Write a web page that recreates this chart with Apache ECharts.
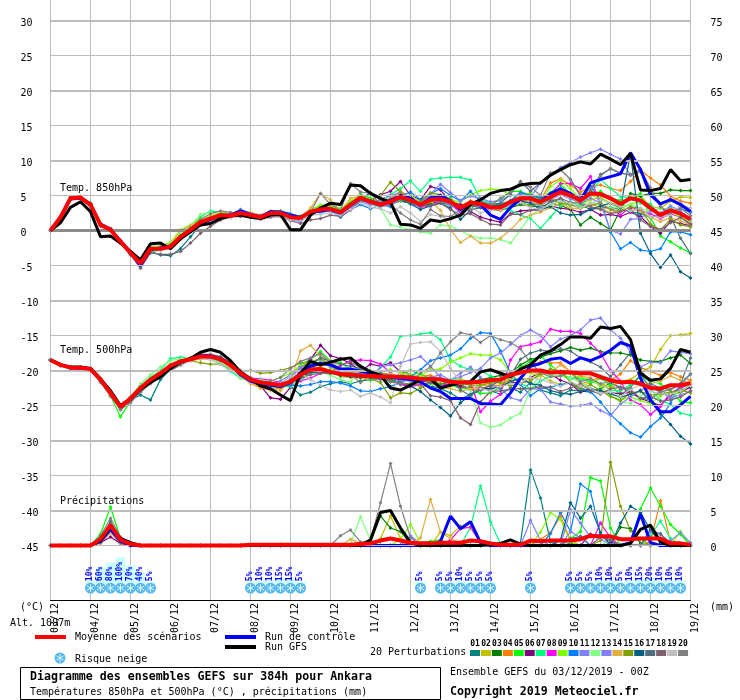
<!DOCTYPE html>
<html><head><meta charset="utf-8">
<style>html,body{margin:0;padding:0;background:#fff}#c{width:740px;height:700px}</style>
<script src="https://cdn.jsdelivr.net/npm/echarts@6/dist/echarts.min.js"></script>
</head><body><div id="c"></div>
<script>
const dates=['03/12','04/12','05/12','06/12','07/12','08/12','09/12','10/12','11/12','12/12','13/12','14/12','15/12','16/12','17/12','18/12','19/12'];
const leftTicks=[30,25,20,15,10,5,0,-5,-10,-15,-20,-25,-30,-35,-40,-45];
const rightTicks=[75,70,65,60,55,50,45,40,35,30,25,20,15,10,5,0];
const thinLevels=[25,15,5,-5,-15,-25,-35,-45];
const thickLevels=[30,20,10,-10,-20,-30,-40];
const memberNames=['01','02','03','04','05','06','07','08','09','10','11','12','13','14','15','16','17','18','19','20'];
const memberColors=['#008080','#c0c000','#008000','#ff8000','#00ff00','#800080','#00ff80','#ff00ff','#80ff00','#0080ff','#8080ff','#80ff80','#8080ff','#e0b040','#80a000','#006080','#507080','#806070','#c0c0c0','#808080'];

const mean850=[0,1.9,4.6,4.7,3.7,0.8,0.1,-1.6,-3.2,-4.7,-2.6,-2.6,-2.3,-0.9,0.1,1.2,1.7,2.2,2.1,2.5,2.2,1.9,2.5,2.5,1.9,1.8,2.7,3.0,3.1,2.6,3.7,4.7,4.1,3.7,4.1,4.8,4.3,3.7,4.4,4.5,4.1,3.2,4.0,3.8,3.3,3.3,4.1,4.6,4.6,4.1,4.8,5.5,5.0,4.3,5.3,5.2,4.6,3.8,4.6,4.3,3.2,2.2,2.9,2.4,1.6];
const gfs850=[0,1.1,3.3,4.1,2.7,-0.9,-0.8,-1.8,-3.0,-4.2,-1.9,-1.8,-2.6,-1.2,-0.2,0.8,1.0,1.7,2.1,2.2,1.9,1.7,2.2,2.3,0.1,0.1,2.2,3.2,3.9,3.7,6.5,6.4,5.3,4.6,4.0,0.9,0.8,0.3,1.5,1.3,1.7,2.2,3.7,4.4,5.3,5.7,5.9,6.5,6.7,6.8,7.9,8.7,9.4,9.8,9.5,10.9,10.2,9.4,11.0,5.8,5.7,6.0,8.7,7.1,7.3];
const ctrl850=[0,1.8,4.5,4.6,3.6,0.9,0.2,-1.5,-3.1,-5.0,-2.7,-2.5,-2.2,-1.0,0,1.0,1.6,2.1,2.2,2.8,2.3,2.0,2.7,2.6,2.2,1.9,2.6,2.8,3.0,2.5,3.6,4.6,4.2,3.8,4.3,5.0,4.6,3.6,4.7,5.0,4.2,3.0,3.9,3.7,2.2,1.6,3.3,4.5,4.6,4.1,5.3,5.9,5.3,4.3,6.8,7.3,7.7,8.1,11.1,8.7,5.1,3.8,4.4,3.7,2.7];

const m850=[
[0,1.9,4.5,4.8,3.9,0.9,0,-1.8,-3.4,-4.9,-3.0,-3.5,-3.6,-2.6,-0.9,0.8,1.4,2.0,2.2,2.6,2.3,2.0,2.4,2.3,1.9,1.6,2.4,2.8,2.9,2.4,3.4,4.5,5.4,4.4,3.5,4.8,5.0,3.4,3.8,4.3,3.9,2.7,3.2,3.9,3.5,3.8,4.2,5.3,5.1,4.7,4.0,4.5,3.5,3.7,3.0,3.2,3.3,3.0,2.7,2.4,1.9,2.2,2.6,3.1,2.6],
[0,2.0,4.7,4.6,3.6,0.7,0.2,-1.5,-3.0,-4.5,-2.5,-2.4,-2.0,-0.6,0.4,1.4,1.9,2.4,2.2,2.4,2.1,1.8,2.3,2.4,2.0,1.7,2.6,3.2,3.4,2.9,3.9,4.9,4.3,3.9,4.5,5.4,4.2,3.4,4.0,4.4,4.6,3.6,4.2,4.0,3.6,3.2,3.8,4.3,4.2,3.6,4.9,5.8,4.6,3.8,4.4,4.7,3.9,3.7,4.6,4.9,3.5,3.1,4.2,4.8,4.7],
[0,1.8,4.6,4.7,3.8,0.9,0.2,-1.7,-3.3,-4.6,-2.7,-2.7,-2.4,-1.0,0,1.1,1.6,2.1,2.0,2.3,2.0,1.7,2.3,2.2,1.7,1.5,2.4,2.8,2.9,2.4,3.5,4.6,3.9,3.4,3.8,4.2,3.9,3.5,3.8,4.0,3.6,3.2,3.6,3.4,3.0,2.9,3.3,3.7,3.5,3.4,3.9,3.6,3.0,0.8,1.9,1.0,0.1,3.0,5.3,4.9,5.3,5.3,5.8,5.7,5.7],
[0,1.9,4.6,4.8,3.7,0.8,0.1,-1.6,-3.1,-4.6,-2.4,-2.5,-2.2,-0.8,0.2,1.3,1.8,2.3,2.2,2.6,2.3,1.9,2.6,2.6,2.0,1.9,2.8,3.3,3.2,2.7,3.8,4.8,4.5,4.0,4.6,5.6,4.7,3.9,4.2,4.8,4.0,3.3,4.2,3.9,3.1,2.9,3.7,4.4,4.9,4.4,6.8,7.4,6.5,5.5,6.3,6.5,6.0,5.7,7.0,8.6,7.5,6.5,4.9,4.2,3.9],
[0,1.9,4.5,4.7,3.8,0.7,0.1,-1.6,-3.3,-4.4,-2.8,-2.4,-2.1,-0.7,0.3,1.3,1.8,2.3,2.3,2.4,2.2,1.9,2.5,2.4,2.0,1.8,2.9,3.6,3.6,3.1,4.0,5.2,4.6,3.8,4.0,4.5,4.0,3.6,4.4,4.9,4.6,2.9,3.6,4.2,3.7,4.4,5.6,5.6,5.0,4.4,5.4,6.6,5.2,4.5,5.0,5.6,4.6,4.3,4.5,5.3,1.8,-0.8,-1.6,-2.5,-3.2],
[0,1.9,4.7,4.7,3.6,0.8,0,-1.7,-3.2,-4.9,-2.9,-2.8,-2.5,-1.1,-0.2,0.9,1.5,2.2,2.0,2.6,2.4,2.0,2.6,2.6,2.1,1.7,2.5,3.1,3.2,2.7,3.6,4.7,4.2,5.1,5.6,7.0,5.0,4.4,6.3,5.8,4.0,3.7,2.7,1.9,1.5,1.2,2.4,2.8,2.9,3.0,3.5,3.2,3.0,2.6,3.0,2.2,2.3,2.0,2.6,2.0,0.6,-0.4,1.3,1.0,0.7],
[0,1.9,4.5,4.6,3.9,1.0,0.1,-1.6,-3.2,-4.5,-3.1,-2.8,-2.1,-0.8,0.6,1.9,2.8,2.6,2.4,2.4,2.3,1.9,2.7,2.8,2.2,2.1,2.8,3.3,3.3,2.8,4.0,4.9,4.0,3.8,5.1,6.0,7.1,5.6,7.3,7.5,7.6,7.6,7.2,4.5,3.9,3.2,2.9,2.2,1.7,0.3,1.9,3.5,4.1,3.5,5.2,7.3,6.0,4.9,4.6,3.9,3.8,2.1,3.4,1.9,0.9],
[0,1.8,4.6,4.8,3.8,0.8,0.2,-1.5,-3.2,-4.8,-2.5,-2.6,-2.3,-0.9,0.3,1.5,1.9,2.3,2.1,2.5,2.1,1.8,2.4,2.5,1.8,1.6,2.6,3.0,3.1,2.5,3.6,4.6,4.0,3.5,3.9,4.6,4.6,3.3,3.5,4.4,3.7,2.6,3.9,3.3,3.1,3.4,4.0,4.9,4.4,3.9,5.1,6.7,6.7,6.0,7.7,3.5,3.1,2.2,3.4,2.8,2.4,1.7,2.4,1.9,1.0],
[0,2.0,4.6,4.7,3.7,0.9,0,-1.5,-3.1,-4.6,-2.3,-2.2,-1.7,0.1,0.8,1.7,2.1,2.6,2.3,2.7,2.2,2.1,2.8,2.8,2.2,2.0,3.0,3.6,3.5,3.0,4.2,5.0,4.4,3.6,4.0,4.3,5.0,4.1,5.1,5.0,4.3,4.1,5.1,5.7,5.9,5.8,5.1,4.7,5.4,4.0,6.3,7.2,6.0,4.4,5.0,4.6,3.9,3.1,3.8,4.1,2.9,2.5,2.7,1.9,1.3],
[0,1.8,4.5,4.7,3.7,0.8,0.1,-1.8,-3.4,-5.2,-2.8,-2.6,-2.5,-1.1,-0.1,0.9,1.5,2.0,2.2,3.0,2.5,2.0,2.7,2.8,2.4,2.0,2.6,2.6,2.8,1.9,3.0,3.7,3.1,3.7,3.4,4.9,5.5,4.4,5.2,6.0,5.0,4.2,5.6,4.1,3.2,3.4,4.3,5.4,5.0,4.6,5.2,6.1,5.3,4.6,6.3,4.4,-0.2,-2.6,-1.7,-2.8,-3.0,-2.6,-0.2,-0.2,-0.6],
[0,1.9,4.5,4.5,3.5,0.7,0.3,-1.4,-3.1,-4.8,-2.6,-2.7,-2.5,-1.0,-0.2,1.0,1.6,2.1,2.0,2.2,2.0,1.8,2.4,2.3,1.7,1.4,2.3,2.8,2.8,2.3,3.2,4.2,3.6,4.5,5.0,5.4,4.6,3.9,5.2,6.6,5.4,4.3,4.9,4.6,4.1,4.3,5.0,5.1,4.7,6.8,8.0,9.0,9.7,10.5,11.1,11.6,10.9,10.2,7.9,8.4,5.6,3.7,4.5,3.9,2.8],
[0,1.9,4.7,4.8,3.8,0.9,0.2,-1.6,-3.1,-4.6,-2.2,-2.3,-1.9,-0.4,0.7,2.3,2.6,2.5,2.3,2.8,2.4,2.1,2.8,2.6,2.2,2.1,2.9,3.2,3.0,2.4,3.4,4.4,3.8,3.2,0.8,0.5,0.1,-0.2,-0.4,0.8,0.6,0,-0.8,-1.1,-1.1,-1.3,-1.8,0.1,2.2,3.0,3.6,4.1,3.5,3.8,4.0,3.7,3.2,3.3,3.8,3.1,2.7,3.2,2.9,2.3,1.6],
[0,1.8,4.6,4.6,3.6,0.7,0.1,-1.7,-3.3,-4.7,-2.7,-2.5,-2.4,-1.2,-0.1,1.0,1.5,2.0,1.9,2.3,2.0,1.6,2.3,2.3,1.6,1.3,2.4,2.7,2.9,2.2,3.3,4.3,3.8,3.4,3.7,4.4,3.9,3.3,4.2,4.2,3.7,2.9,3.7,3.4,3.0,3.1,3.6,4.2,4.0,3.5,4.4,5.1,4.5,4.0,4.6,3.9,0.0,-0.5,1.6,1.7,2.8,2.5,3.5,2.8,1.6],
[0,1.9,4.6,4.7,3.8,0.8,0,-1.6,-3.2,-4.6,-2.5,-2.4,-2.0,0,0.7,1.4,2.0,2.4,2.4,2.7,2.6,2.2,2.6,2.5,2.0,1.9,3.2,5.3,4.4,2.8,4.6,4.9,4.2,3.9,4.1,4.5,4.5,4.0,4.2,2.9,0.1,-1.7,-0.8,-1.8,-1.8,-1.1,0.1,1.6,2.2,2.6,3.3,3.9,3.2,3.1,3.8,3.3,2.5,2.9,3.1,2.7,1.9,1.3,1.8,1.4,0.8],
[0,1.9,4.5,4.6,3.7,0.9,0.1,-1.5,-3.1,-4.6,-2.6,-2.6,-2.2,-0.7,0.4,1.4,1.8,2.3,2.1,2.4,2.1,2.0,2.4,2.3,1.8,1.7,2.5,2.9,3.0,2.6,3.6,4.5,4.3,5.0,6.9,5.5,3.9,4.1,5.4,5.1,4.4,3.2,3.7,3.6,3.2,3.4,3.7,4.0,3.6,3.9,4.5,3.9,3.7,3.2,3.6,3.9,3.0,2.8,3.4,3.1,0.9,0.1,1.6,0.8,0.5],
[0,1.9,4.6,4.7,3.7,0.8,0.2,-1.6,-3.2,-4.8,-2.7,-2.7,-2.4,-1.0,0,1.1,1.6,2.1,2.1,2.4,2.2,1.8,2.5,2.4,1.9,1.8,2.7,3.0,3.0,2.6,3.6,4.7,4.1,3.6,4.2,4.5,3.8,3.0,3.5,3.9,3.2,1.6,2.9,3.3,3.5,3.6,4.0,4.2,3.9,3.0,3.4,2.5,2.2,2.3,3.0,3.5,3.9,3.3,11.0,-0.4,-3.3,-5.3,-3.5,-5.9,-6.8],
[0,2.0,4.7,4.8,3.9,1.0,0.2,-1.5,-3.4,-5.0,-2.8,-2.6,-2.3,-0.8,0.2,1.3,1.8,2.2,2.2,2.5,2.2,2.0,2.5,2.6,2.0,1.9,2.7,3.2,3.1,2.7,3.8,4.9,4.3,3.7,4.0,4.5,4.2,3.5,4.3,4.6,4.1,3.2,4.1,4.2,3.7,3.9,5.2,7.0,5.6,6.8,8.2,8.7,7.3,4.9,5.6,8.0,8.8,8.2,8.0,8.7,5.8,3.4,2.0,-1.1,-3.3],
[0,1.8,4.4,4.6,3.5,0.6,0,-1.8,-3.5,-5.4,-3.2,-3.4,-3.4,-3.0,-1.8,-0.4,0.6,1.5,1.9,2.0,1.9,1.6,1.9,2.0,1.4,1.0,1.5,1.7,2.2,2.0,2.9,4.2,4.2,3.8,4.4,5.0,4.5,3.5,3.6,3.9,3.0,2.2,2.4,1.6,0.9,0.8,2.3,2.3,2.9,2.9,4.2,4.6,4.0,3.9,3.4,3.0,2.4,2.7,3.1,1.5,0.6,0.1,1.1,1.9,0.9],
[0,1.9,4.5,4.6,3.6,0.7,0.1,-1.7,-3.3,-4.7,-2.8,-2.8,-2.6,-1.2,-0.1,0.9,1.4,2.0,1.9,2.2,1.9,1.7,2.1,2.1,1.5,1.5,2.2,2.3,2.5,2.2,3.0,3.9,3.3,3.1,2.5,3.4,2.5,1.3,2.3,2.0,1.5,2.3,3.3,2.5,3.0,3.0,3.5,4.0,3.3,3.0,3.8,4.2,3.9,3.2,3.9,4.4,3.9,3.4,2.8,3.2,2.0,1.9,2.2,3.7,3.2],
[0,1.9,4.8,4.9,3.9,1.0,0.3,-1.5,-3.0,-4.4,-2.5,-2.4,-2.1,-0.8,0.3,1.6,2.4,2.8,2.6,2.5,2.3,2.0,2.6,2.7,2.1,1.9,2.6,5.3,3.7,2.9,6.7,5.5,5.3,3.7,3.7,2.5,1.5,0.9,3.0,2.1,2.0,3.0,2.9,3.5,3.6,4.6,5.5,6.8,6.2,5.0,8.2,8.7,7.3,5.0,6.0,7.8,8.9,8.2,7.9,8.7,6.1,3.4,2.5,3.2,2.1]
];

const mean500=[-18.5,-19.2,-19.6,-19.6,-19.8,-21.3,-23.2,-25.2,-24,-22.5,-21.3,-20.4,-19.3,-18.7,-18.4,-18,-18,-18.4,-19.2,-20.4,-21.3,-21.7,-21.9,-22.1,-21.6,-20.6,-19.9,-19.8,-20.2,-20.5,-20.6,-20.7,-20.8,-20.9,-20.9,-20.9,-21,-21.2,-21.2,-21.3,-21.6,-21.7,-21.7,-21.6,-21.4,-21.3,-20.6,-20.3,-20,-20,-20.3,-20.2,-20.3,-20.4,-20.4,-20.9,-21.4,-21.7,-21.6,-21.9,-22.5,-22.6,-22.1,-22.1,-21.8];
const gfs500=[-18.5,-19.2,-19.5,-19.5,-19.7,-21.2,-22.9,-25,-24,-22.7,-21.7,-20.9,-19.7,-18.8,-18.3,-17.4,-17,-17.4,-18.6,-20.2,-21.2,-22.2,-22.6,-23.5,-24.3,-20.4,-18.7,-19.2,-18.8,-18.4,-18.2,-19.4,-20.2,-20.7,-22.5,-22.8,-22.1,-21.3,-21.2,-22.5,-22.1,-21.7,-21.6,-20.2,-19.9,-20.4,-20.9,-19.8,-19.2,-17.8,-17.2,-16.3,-15.2,-15.2,-15.4,-13.8,-14,-13.7,-15.6,-20.4,-21.4,-21.2,-19.7,-17,-17.4];
const ctrl500=[-18.5,-19.2,-19.6,-19.7,-19.8,-21.3,-23.1,-25.2,-24.1,-22.6,-21.4,-20.5,-19.4,-18.7,-18.3,-17.9,-17.9,-18.3,-19.2,-20.6,-21.5,-21.9,-22.1,-22.3,-21.7,-20.4,-19.4,-19,-19.2,-19.8,-19.8,-20.1,-20.4,-20.8,-21,-21.1,-21.3,-21.6,-22.5,-23,-24,-24,-24,-24.7,-24.8,-24.9,-23.2,-21.1,-19.4,-19,-18.4,-18.2,-19,-18.2,-18.6,-18,-17.1,-16,-16.5,-21.1,-24.2,-25.9,-25.9,-24.9,-23.7];
const m500=[
[-18.5,-19.3,-19.7,-19.6,-19.7,-21.4,-23.3,-25.3,-24.2,-23.5,-24.2,-21.3,-19.8,-19,-18.5,-18.1,-18.2,-18.6,-19.4,-20.4,-21.2,-21.5,-21.7,-21.9,-22.3,-23.5,-23.1,-22.3,-21.9,-21.6,-21.9,-21.5,-21.3,-21.1,-21.5,-21.3,-21.1,-21.7,-22.2,-22.6,-23.2,-24.1,-23.4,-22.5,-22.9,-23.4,-22.5,-23.1,-21.7,-22.8,-23.2,-23.6,-22.8,-22.9,-23.1,-22.6,-21.8,-22.4,-23.1,-23.9,-24.2,-22.9,-23.4,-22.7,-22.4],
[-18.5,-19.2,-19.6,-19.6,-19.9,-21.3,-23,-25,-23.8,-22.4,-21.2,-20.3,-19.4,-18.6,-18.5,-18.4,-18.2,-18.6,-19.3,-20.4,-21.5,-21.9,-22.2,-22.6,-21.9,-20.2,-19.5,-19.7,-20.1,-20.9,-21,-21.1,-21.4,-21.2,-20.5,-20.9,-21.6,-22.4,-22.1,-22,-21.6,-21.1,-21.8,-22,-22.3,-22.1,-21.5,-21.1,-21.3,-20.6,-21.5,-22,-21.7,-22.4,-21.6,-21.9,-22.3,-21.5,-21.3,-20.3,-19.5,-17,-15,-14.9,-14.7],
[-18.5,-19.3,-19.5,-19.7,-19.8,-21.2,-23.2,-25.4,-24.1,-22.5,-21.3,-20.3,-19.2,-18.7,-18.4,-18,-18.2,-18.5,-19.1,-20.3,-21.2,-21.6,-22,-22.4,-21.8,-21.1,-20,-19.6,-20,-20.6,-20.7,-20.6,-20.9,-20.8,-21.3,-21,-20.8,-21,-21.7,-21.9,-21.6,-22.2,-21.7,-21.3,-21,-20.7,-20.4,-19.2,-18.4,-18.1,-17.6,-17.2,-16.7,-17.1,-16.8,-17.3,-17.5,-17.5,-17.8,-18.5,-18.7,-18.7,-18.2,-17.8,-19],
[-18.5,-19.2,-19.6,-19.5,-19.8,-21.4,-23.2,-25.1,-24,-22.3,-21.2,-20.4,-19.4,-18.8,-18.3,-18.1,-17.9,-18.3,-19.5,-20.8,-21.6,-22.5,-22.8,-22.5,-21.4,-20.7,-19.7,-19.5,-20,-20.3,-20.8,-21,-20.6,-20.6,-20.4,-21,-20.9,-20.8,-20.7,-21.2,-21.9,-22.4,-22.7,-22.8,-22,-22.2,-21.2,-19.6,-19.2,-18.8,-18.9,-18.9,-20.2,-22,-21.4,-21,-21.4,-20.5,-18.6,-19.6,-20.1,-20.7,-20.3,-20.9,-21.4],
[-18.5,-19.2,-19.7,-19.6,-19.9,-21.5,-23.6,-26.6,-24.4,-22.7,-21.3,-20.2,-19.1,-18.5,-18.2,-17.8,-17.9,-18.4,-19.3,-20.6,-21.6,-22,-22.1,-22,-20.7,-19.2,-18.4,-17.3,-18.6,-18.9,-19.9,-20,-20.2,-21.1,-21.6,-20.8,-20,-20.6,-21.1,-22,-22.1,-22.5,-22.7,-23.3,-23.2,-22.4,-20.9,-19.6,-18.7,-17.9,-19.2,-20.4,-21.2,-20.9,-21.8,-21.1,-22.1,-23.5,-22.4,-20.8,-21.5,-21.9,-23,-24.4,-24.6],
[-18.5,-19.3,-19.6,-19.7,-19.7,-21.2,-23.3,-25.1,-23.9,-22.8,-21.6,-20.6,-19.6,-18.9,-18.4,-17.9,-18,-18.4,-19.1,-20.2,-21.3,-22.2,-23.9,-24.1,-22.4,-19.7,-18.4,-16.4,-17.9,-18.3,-19,-20.1,-19.1,-19.4,-18.9,-20.2,-20.6,-21.5,-21.6,-21.2,-21.9,-22.3,-22.4,-22.5,-22.6,-22.4,-21.6,-21.9,-21,-20.3,-20.5,-21.4,-21.9,-23.1,-22.7,-22.9,-23.2,-23.3,-23.1,-24,-24.5,-25,-23.6,-23.1,-22.4],
[-18.4,-19.1,-19.5,-19.6,-19.8,-21.2,-23.1,-25,-23.9,-22.2,-21,-20,-18.3,-18.1,-18.2,-18,-18.2,-19,-20.1,-21.1,-21.5,-22.1,-22.6,-22.3,-22.3,-21.4,-20.5,-19.8,-20.1,-20.7,-20.1,-19.6,-21.4,-19.5,-18.1,-15.1,-15,-14.8,-14.6,-15.6,-18.5,-19.4,-19.9,-20,-20.8,-21.4,-21,-21.8,-22.6,-21.5,-20.8,-20.7,-21,-21.2,-21.6,-21.9,-22.8,-22.9,-22,-20.7,-22.6,-24.3,-24.8,-26.1,-26.4],
[-18.5,-19.2,-19.6,-19.6,-19.8,-21.3,-23.2,-25.3,-24,-22.5,-21.2,-20.2,-19.3,-18.8,-18.4,-18.1,-18.2,-18.6,-19.3,-20.3,-21.1,-21.2,-21.4,-21.7,-21.6,-21.5,-21.1,-20.4,-20.3,-19.3,-18.6,-18.5,-18.6,-19.1,-20.3,-22,-22.3,-22,-21.7,-22.1,-21.9,-21.7,-21.6,-25.9,-24.4,-23.4,-18.5,-16.6,-16.3,-15.9,-14.1,-14.4,-14.4,-14.7,-16.1,-17.5,-20,-21.5,-24.2,-24.9,-26.3,-25.1,-23.2,-22.5,-22],
[-18.5,-19.2,-19.6,-19.6,-19.8,-21.3,-23.1,-25.2,-24,-22.4,-21.1,-20.1,-19.2,-18.7,-18.3,-17.9,-18,-18.5,-19.4,-20,-21.4,-21.7,-21.5,-21,-20.4,-19.3,-18.8,-18.5,-19.6,-20.2,-20.6,-20.5,-20.3,-20.1,-19.9,-20.3,-20.6,-20.8,-19.9,-19.8,-18.8,-18.2,-17.6,-17.8,-17.8,-18.5,-20.3,-20,-20.4,-20.8,-19.9,-20.4,-20.5,-21,-21.2,-22.3,-23.6,-24.2,-23.8,-24.3,-24.7,-23.6,-23.1,-23.3,-21.8],
[-18.4,-19.2,-19.7,-19.7,-19.9,-21.4,-23.2,-25.4,-24.2,-22.6,-21.4,-20.5,-19.5,-18.8,-18.5,-18,-18.1,-18.4,-19.2,-20.2,-21.3,-21.8,-22,-22.2,-22.1,-22.2,-22,-21.6,-21.6,-21.8,-22.2,-22.9,-23,-22.6,-22.3,-21.7,-20.9,-19.9,-18.6,-18.2,-17.8,-16.9,-15.4,-14.6,-14.7,-17.2,-20.4,-22,-23.6,-22.6,-22.4,-22,-21.8,-22.6,-23,-24.5,-26.3,-27.6,-28.9,-29.5,-28,-26.8,-24.7,-21.9,-20.5],
[-18.5,-19.2,-19.6,-19.5,-19.8,-21.2,-23,-25.1,-23.8,-22.2,-21.2,-20.4,-19.4,-18.8,-18.5,-18.2,-18.2,-18.6,-19.5,-20.8,-21.4,-21.6,-21.9,-22.4,-21.2,-19.5,-18.9,-18.3,-19.5,-19.8,-20,-20.5,-21,-19.5,-19.2,-18.9,-18.5,-18,-19.4,-21,-21.4,-20.9,-20.3,-19.7,-18.2,-17.5,-16.3,-15,-14.2,-15,-16.6,-15.5,-15,-14.2,-12.8,-12.5,-14.2,-15.4,-17.3,-19.5,-18.8,-18.9,-17.2,-17.4,-17.6],
[-18.5,-19.1,-19.5,-19.6,-19.7,-21.1,-22.9,-25,-23.8,-21.9,-20.6,-19.5,-18.6,-18.3,-18.1,-17.9,-18.2,-18.9,-19.7,-21.1,-21.6,-21.3,-21.7,-22,-21.7,-21.2,-20.4,-20.2,-20.7,-21.3,-21.7,-19.3,-20,-21,-20.5,-21.1,-21.4,-21.8,-22.1,-22,-21.2,-21.4,-22.8,-27.5,-28.1,-27.8,-26.8,-26.1,-22.8,-20.4,-20.6,-20.8,-21.1,-21.7,-22.5,-22.9,-23.5,-24.5,-24.7,-23.7,-22.4,-22.4,-23.9,-22.8,-22.2],
[-18.5,-19.2,-19.6,-19.6,-19.8,-21.3,-23.3,-25.2,-24.1,-22.6,-21.5,-20.4,-19.4,-18.8,-18.4,-18.1,-18.2,-18.5,-19.4,-20.5,-21.1,-21.5,-22,-21.5,-20.6,-19.8,-19.4,-18.8,-19.3,-19.9,-20.2,-20.6,-21.1,-21.3,-20.9,-21.6,-21.4,-21.7,-21,-20.6,-21.4,-20.4,-19.5,-21,-22,-22.6,-23.9,-24.3,-22.6,-22.7,-24.5,-24.8,-25.1,-25,-24.7,-25.7,-26.4,-24.8,-23.8,-22.8,-22.1,-23.1,-23.9,-23.5,-23],
[-18.5,-19.3,-19.6,-19.7,-19.9,-21.5,-23.4,-25.1,-23.8,-22.4,-21.4,-20.3,-19.5,-18.9,-18.5,-18.3,-18.1,-18.5,-19.5,-20.8,-21.9,-22.5,-22.6,-22.9,-21.5,-17.2,-16.4,-18,-18.6,-19.7,-20.2,-20.8,-20.3,-20.3,-20.6,-20.8,-21.3,-21.2,-21.7,-22.4,-22.6,-23,-22.6,-22.2,-21.5,-21.8,-21.2,-20.3,-20,-20.7,-20.2,-19.2,-20.1,-20.8,-21,-22,-22.6,-21.5,-21.5,-21.7,-21.9,-21.5,-20.8,-21.4,-21.8],
[-18.5,-19.2,-19.6,-19.6,-19.8,-21.2,-23.1,-25,-23.9,-22.6,-21.4,-20.3,-19.3,-18.7,-18.6,-18.9,-19.1,-19.1,-19.8,-20.1,-20,-20.4,-20.3,-20,-19.6,-18.9,-18.8,-18.3,-19.2,-20.2,-20.3,-20.7,-21.2,-21.7,-23.9,-23.2,-23.3,-22.5,-21.6,-21.9,-21.7,-21.5,-22.2,-22.1,-21.8,-21.7,-22.2,-21.8,-21.5,-20.5,-19.8,-20.1,-21.7,-22.8,-22,-22.9,-23.7,-24.3,-23.2,-23,-23.5,-23.4,-23.1,-22.8,-23.2],
[-18.5,-19.2,-19.6,-19.6,-19.8,-21.3,-23.2,-25.2,-24.1,-22.6,-21.3,-20.5,-19.5,-18.8,-18.4,-18,-18.1,-18.5,-19.3,-20.4,-21.4,-21.8,-22,-22.2,-21.8,-20.9,-20.3,-20.2,-20.4,-20.7,-20.9,-21,-21,-21.2,-21.5,-21.7,-22.2,-23,-24.2,-25.3,-26.5,-24.6,-23.5,-22.8,-22.6,-22.4,-21.6,-21.1,-21.9,-22.1,-22.9,-23.2,-23.4,-23,-22.6,-22.9,-23.3,-23.8,-23.4,-22.9,-24.4,-26.2,-27.7,-29.4,-30.5],
[-18.5,-19.3,-19.7,-19.6,-19.8,-21.5,-23.3,-25.3,-24.3,-22.8,-21.6,-20.7,-19.6,-18.9,-18.2,-17.7,-17.7,-18,-18.9,-20.1,-21.1,-21.6,-21.8,-22,-21.4,-20.2,-19.2,-18.2,-18.7,-19.1,-19.4,-19.7,-20.3,-20.4,-20.7,-21,-20.9,-21.3,-21.8,-22.1,-21.5,-22.8,-23.6,-22.7,-22.2,-21.4,-20.7,-18.4,-17.5,-17.1,-17.3,-16.9,-17.2,-18.2,-18.8,-19.5,-20.9,-19.2,-17.4,-19.8,-21.9,-22.5,-22.7,-21.9,-18.2],
[-18.5,-19.3,-19.7,-19.7,-19.9,-21.6,-23.5,-25.6,-24.5,-23,-21.8,-20.8,-20,-19.2,-18.5,-18.1,-17.9,-18.3,-19,-20.2,-21.2,-21.8,-22.1,-22.3,-21.9,-21.1,-20.6,-20.4,-20.3,-19.2,-18.8,-19.6,-20.1,-20.6,-21.6,-22,-22,-21.9,-23.6,-23.8,-24.3,-26.8,-27.7,-24.5,-23,-22.9,-22.7,-22.6,-22.6,-22.3,-22.4,-23,-22.5,-21.9,-22.9,-23.4,-22.6,-22.4,-22.7,-24,-23.7,-24.4,-24.2,-23.8,-22.9],
[-18.4,-19.2,-19.6,-19.5,-19.8,-21.3,-23.1,-25,-23.8,-22.6,-21.4,-20.4,-19.4,-18.8,-18.6,-18.3,-18.5,-19.1,-19.9,-20.7,-21.7,-22,-22.6,-21.9,-20.8,-20.4,-21.3,-22.1,-22.8,-23,-22.8,-23.7,-23.2,-23.8,-24.6,-19.4,-16.2,-16,-15.9,-17.3,-19.7,-21.7,-21.7,-22.6,-22.9,-22.3,-21.9,-21.8,-21,-21.3,-21.7,-22.3,-21.6,-22.2,-22.5,-23.3,-23.1,-23.7,-22.7,-22.1,-23,-23.3,-23.4,-22.9,-22.1],
[-18.5,-19.3,-19.7,-19.7,-19.9,-21.7,-23.7,-25.5,-24.6,-23.1,-21.9,-20.8,-19.8,-19,-18.4,-18,-18,-18.3,-19,-20,-21,-21.6,-21.5,-21,-19.7,-18.7,-18.2,-17.6,-18.9,-19.8,-20.6,-21.7,-20.7,-21.1,-21.5,-21.8,-21.9,-20.4,-19.5,-17.5,-15.9,-14.6,-14.9,-16,-15,-15.6,-16,-16.9,-18.9,-20.3,-20.9,-20.8,-20.2,-21.6,-21.2,-21.9,-21.6,-22.7,-22.4,-20.6,-22.4,-23.1,-22.7,-22.1,-20.5]
];

const meanP=[0,0,0,0,0,0.9,2.9,0.8,0.2,0,0,0,0,0,0,0,0,0,0,0,0.1,0.1,0.1,0.1,0.1,0.1,0.1,0.1,0.1,0.1,0.1,0.2,0.3,0.7,1.0,0.7,0.4,0.3,0.3,0.4,0.4,0.4,0.7,0.6,0.3,0.1,0.1,0.1,0.7,0.6,0.7,0.7,0.7,0.9,1.4,1.3,1.3,0.9,0.9,1.0,1.0,1.0,0.3,0.3,0.1];
const gfsP=[[5,0.7],[6,2.7],[7,1.0],[8,0.4],[32,0.8],[33,4.7],[34,5.0],[35,2.5],[36,0.4],[44,0.1],[45,0.3],[46,0.8],[47,0.2],[58,0.3],[59,2.3],[60,2.9],[61,0.5]];
const ctrlP=[[5,0.6],[6,2.3],[7,0.6],[39,0.6],[40,4.2],[41,2.4],[42,3.4],[43,0.4],[58,0.4],[59,4.5],[60,0.4]];
const membersP=[
[[5,0.7],[6,2.4],[7,0.7],[37,0.3],[47,0.4],[48,10.8],[49,6.8],[50,0.5],[52,0.3]],
[[5,0.5],[6,2.6],[7,0.6],[33,1.0],[34,4.2],[35,1.0],[39,1.9],[40,1.4],[41,2.8],[42,2.5],[43,0.4]],
[[5,0.6],[6,2.1],[7,0.4],[32,0.5],[33,4.2],[34,2.5],[35,2.0],[36,0.3],[57,2.6],[58,2.4],[59,0.3]],
[[5,0.3],[6,1.9],[7,0.3],[49,0.9],[50,1.8],[51,4.2],[52,0.7],[60,0.5],[61,6.4],[62,0.5]],
[[5,1.6],[6,5.5],[7,1.0],[8,0.2],[37,0.4],[38,0.6],[39,0.8],[52,1.0],[53,2.0],[54,9.7],[55,9.2],[56,2.5],[59,5.2],[60,8.2],[61,5.6],[62,3.0],[63,1.6]],
[[5,0.4],[6,1.2],[7,0.3],[54,1.6],[55,1.4],[56,0.5]],
[[5,0.8],[6,3.0],[7,0.8],[42,2.6],[43,8.5],[44,3.4],[45,0.2],[60,1.4],[61,3.5],[62,1.0]],
[[5,0.5],[6,2.2],[7,0.5],[40,0.8],[41,2.4],[42,2.6],[43,0.4],[55,3.2],[56,1.1]],
[[5,0.6],[6,2.7],[7,0.7],[35,0.9],[36,3.0],[37,0.4],[49,1.9],[50,4.7],[51,3.7],[52,0.5],[63,2.0],[64,0.2]],
[[5,0.5],[6,2.0],[7,0.5],[50,1.7],[51,4.7],[52,2.0],[53,8.8],[54,7.7],[55,1.6],[56,0.7]],
[[5,0.4],[6,1.9],[7,0.4],[36,1.2],[48,3.6],[49,0.7],[52,5.1],[53,3.2],[54,1.2],[55,1.0],[60,2.0],[61,1.7]],
[[5,0.7],[6,3.3],[7,1.0],[29,0.1],[30,0.2],[31,4.1],[32,0.7],[56,0.8]],
[[5,0.6],[6,2.5],[7,0.6],[36,1.4],[37,0.3],[52,2.0],[53,1.1],[62,0.7],[63,1.8],[64,0.4]],
[[5,0.4],[6,1.8],[7,0.4],[23,0.2],[30,0.9],[31,0.3],[37,1.1],[38,6.6],[39,1.9],[40,1.0],[41,0.3]],
[[5,0.7],[6,2.8],[7,0.7],[55,0.7],[56,11.9],[57,5.6],[58,2.1],[59,1.0]],
[[5,0.5],[6,2.3],[7,0.5],[51,0.8],[52,6.1],[53,3.9],[54,5.6],[55,1.8],[57,3.2],[58,5.6],[59,4.7],[60,2.2],[61,0.4]],
[[5,0.9],[6,3.4],[7,0.9],[8,0.2],[52,1.0],[53,1.3],[60,2.3],[61,1.6],[62,0.4]],
[[5,1.0],[6,3.1],[7,0.9],[55,1.2],[56,0.8]],
[[5,0.8],[6,2.6],[7,1.1],[8,0.3],[36,0.6],[37,0.3]],
[[5,1.4],[6,3.9],[7,1.2],[8,0.2],[29,1.4],[30,2.2],[31,0.5],[32,0.7],[33,6.1],[34,11.7],[35,5.6],[36,1.1]]
];

const snowIdx=[4,5,6,7,8,9,10,20,21,22,23,24,25,37,39,40,41,42,43,44,48,52,53,54,55,56,57,58,59,60,61,62,63];
const snowPct=[10,60,80,100,70,40,5,5,10,10,15,15,5,5,5,5,10,5,5,5,5,5,5,5,10,10,5,10,15,20,10,10,10];

const N=65;
const cats=[];for(let i=0;i<N;i++)cats.push(i%4===0?dates[i/4]:'');
const toFull=p=>{const a=new Array(N).fill(0);p.forEach(q=>{a[q[0]]=q[1]});return a;};

const MONO='"DejaVu Sans Mono"';
function flake(cx,cy){
  const spoke=(x1,y1,x2,y2)=>({type:'line',shape:{x1:cx+x1,y1:cy+y1,x2:cx+x2,y2:cy+y2},style:{stroke:'#d4f2ff',lineWidth:1}});
  return [{type:'circle',shape:{cx:cx,cy:cy,r:5.5},style:{fill:'#58b8ea'}},spoke(0,-4,0,4),spoke(-3.5,-2,3.5,2),spoke(-3.5,2,3.5,-2)];
}
const series=[];
series.push({type:'line',data:[],silent:true,z:1,markLine:{silent:true,symbol:'none',animation:false,label:{show:false},data:
  thinLevels.map(v=>({yAxis:v,lineStyle:{color:'#bcbcbc',width:1,type:'solid'}}))
  .concat(thickLevels.map(v=>({yAxis:v,lineStyle:{color:'#bcbcbc',width:2,type:'solid'}})))
  .concat([{yAxis:0,lineStyle:{color:'#8c8c8c',width:3,type:'solid'}}])}});
series.push({type:'custom',z:2,silent:true,data:snowIdx.map((x,i)=>[x,snowPct[i]]),encode:{x:0},renderItem:(p,api)=>{
  const i=api.value(0),pct=api.value(1);
  const c=api.coord([i,-51.1]);
  const w=api.size([1,0])[0];
  const h=api.size([0,0.71+0.0372*pct])[1];
  return {type:'group',children:[
    {type:'rect',shape:{x:c[0]-w/2,y:c[1]-h,width:w,height:h},style:{fill:'#ccffff'}}
  ].concat(flake(c[0],c[1])).concat([
    {type:'text',x:c[0]-1,y:c[1]-7,rotation:Math.PI/2,style:{text:pct+'%',fill:'#0000ff',font:'bold 8px '+MONO,align:'left',verticalAlign:'middle'}}
  ])};
}});
function addLine(data,color,yIdx,width,z,marks){
  series.push({type:'line',data:data,xAxisIndex:0,yAxisIndex:yIdx,z:z,silent:true,
    symbol:marks?'diamond':'none',symbolSize:4,showSymbol:!!marks,showAllSymbol:true,
    lineStyle:{color:color,width:width},itemStyle:{color:color},clip:true,animation:false});
}
memberColors.forEach((col,k)=>{
  addLine(m850[k],col,0,1.2,3,true);
  addLine(m500[k],col,0,1.2,3,true);
  addLine(toFull(membersP[k]),col,1,1.2,3,true);
});
addLine(ctrl850,'#0000ff',0,3,4);addLine(ctrl500,'#0000ff',0,3,4);addLine(toFull(ctrlP),'#0000ff',1,3,4);
addLine(gfs850,'#000000',0,3,5);addLine(gfs500,'#000000',0,3,5);addLine(toFull(gfsP),'#000000',1,3,5);
addLine(mean850,'#ff0000',0,4,6);addLine(mean500,'#ff0000',0,4,6);addLine(meanP,'#ff0000',1,4,6);

const T=(s,x,y,o)=>Object.assign({type:'text',x:x,y:y,z:20,style:Object.assign({text:s,fill:'#000',font:'10px '+MONO,textVerticalAlign:'middle'},o||{})});
const L=(x1,x2,y,c)=>({type:'line',z:20,shape:{x1:x1,y1:y,x2:x2,y2:y},style:{stroke:c,lineWidth:4}});
const g=[
 T('Temp. 850hPa',60,188),T('Temp. 500hPa',60,350),T('Précipitations',60,501),
 T('(°C)',20,607),T('(mm)',710,607),T('Alt. 1097m',10,623),
 L(35,66,637,'#ff0000'),T('Moyenne des scénarios',75,637),
 L(225,256,637,'#0000ff'),T('Run de contrôle',265,637),
 L(225,256,647,'#000000'),T('Run GFS',265,647),
 T('Risque neige',75,659),
 {type:'rect',z:20,shape:{x:20.5,y:667.5,width:420,height:32},style:{fill:'#fff',stroke:'#000',lineWidth:1}},
 T('Diagramme des ensembles GEFS sur 384h pour Ankara',30,677,{font:'bold 11.6px '+MONO}),
 T('Températures 850hPa et 500hPa (°C) , précipitations (mm)',30,692),
 T('20 Perturbations',370,652),
 T('Ensemble GEFS du 03/12/2019 - 00Z',450,672),
 T('Copyright 2019 Meteociel.fr',450,692,{font:'bold 11.6px '+MONO})
];
flake(60,658).forEach(e=>{e.z=20;g.push(e);});
memberNames.forEach((n,k)=>{
  const x=470+k*10.95;
  g.push({type:'rect',z:20,shape:{x:x,y:650,width:10,height:6},style:{fill:memberColors[k]}});
  g.push(T(n,x+0.2,644,{font:'bold 8px '+MONO}));
});

const chart=echarts.init(document.getElementById('c'),null,{renderer:'canvas'});
chart.setOption({
 animation:false,backgroundColor:'#fff',
 grid:{left:50.5,right:49.5,top:0,bottom:100,containLabel:false},
 xAxis:{type:'category',data:cats,boundaryGap:false,
   axisLine:{onZero:false,lineStyle:{color:'#000',width:1}},axisTick:{show:false},
   splitLine:{show:true,interval:3,lineStyle:{color:'#bcbcbc',width:1}},
   axisLabel:{show:true,interval:3,rotate:90,margin:3,align:'right',verticalAlign:'top',fontFamily:'DejaVu Sans Mono',fontSize:10,color:'#000'}},
 yAxis:[
  {type:'value',min:-52.79,max:32.93,position:'left',axisLine:{show:false},axisTick:{show:false},splitLine:{show:false},
   axisLabel:{customValues:leftTicks,margin:30,align:'left',verticalAlign:'top',lineHeight:5,fontFamily:'DejaVu Sans Mono',fontSize:10,color:'#000'}},
  {type:'value',min:-7.79,max:77.93,position:'right',axisLine:{show:false},axisTick:{show:false},splitLine:{show:false},
   axisLabel:{customValues:rightTicks,margin:20,align:'left',verticalAlign:'top',lineHeight:5,fontFamily:'DejaVu Sans Mono',fontSize:10,color:'#000'}}
 ],
 series:series,graphic:g
});
</script></body></html>
